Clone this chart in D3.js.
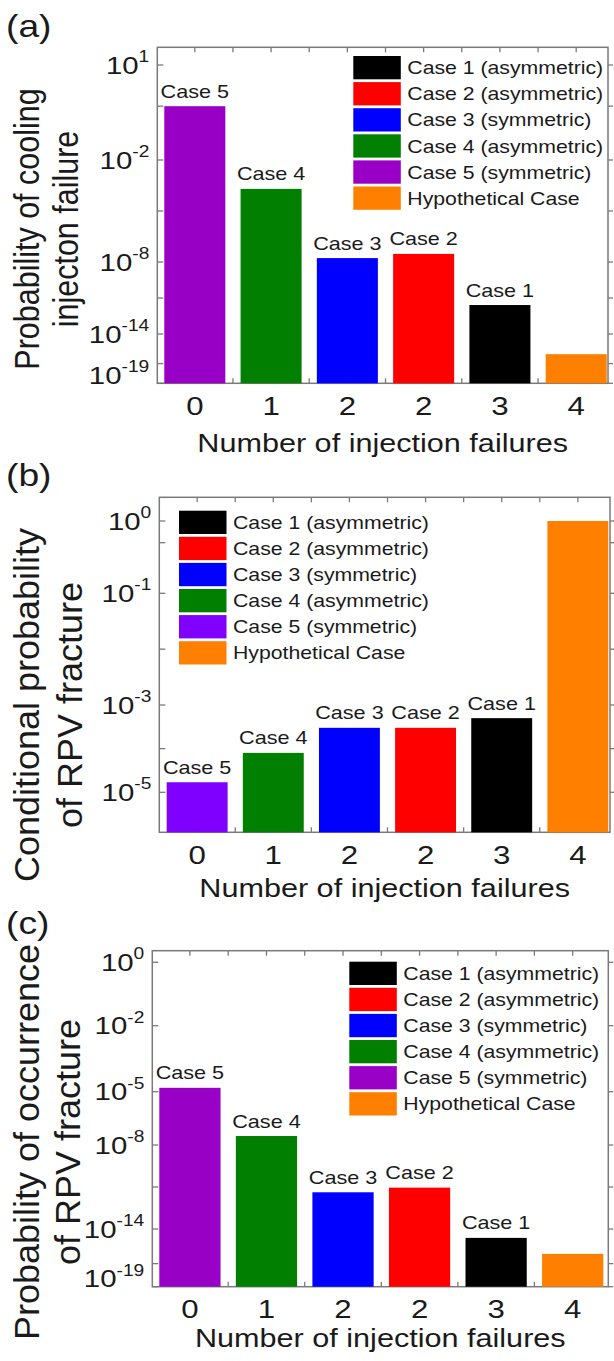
<!DOCTYPE html>
<html>
<head>
<meta charset="utf-8">
<script src="https://cdn.jsdelivr.net/npm/d3@7/dist/d3.min.js"></script>
<style>
  html, body { margin: 0; padding: 0; background: #fff; }
  svg { display: block; }
  text { font-family: "Liberation Sans", Arial, Helvetica, sans-serif; fill: #1a1a1a; }
</style>
</head>
<body>
<svg id="fig" width="614" height="1361"></svg>
<script>
// ---- data -------------------------------------------------------------
const failureCounts = ["0", "1", "2", "2", "3", "4"];
const barCases = ["Case 5", "Case 4", "Case 3", "Case 2", "Case 1", "Hypothetical Case"];
const barLabels = ["Case 5", "Case 4", "Case 3", "Case 2", "Case 1", ""];
const legendCases = ["Case 1", "Case 2", "Case 3", "Case 4", "Case 5", "Hypothetical Case"];
const legendLabels = ["Case 1 (asymmetric)", "Case 2 (asymmetric)", "Case 3 (symmetric)",
                      "Case 4 (asymmetric)", "Case 5 (symmetric)", "Hypothetical Case"];

// (a) probability of cooling injection failure
const coolingFailure = [5e-1, 2e-4, 1.7e-8, 3e-8, 2.6e-12, 9e-17];
// (b) conditional probability of RPV fracture
const fractureGivenFailure = [1.7e-5, 8e-5, 3e-4, 3e-4, 5e-4, 1];
// (c) probability of occurrence of RPV fracture
const fractureOccurrence = [1.5e-5, 3.2e-8, 4.2e-12, 9e-12, 1.7e-15, 7e-17];

// tick exponents (labelled and unlabelled)
const ticksA = [1, -2, -8, -14, -19];
const minorA = [-0.3, -5, -11, -17];
const ticksB = [0, -1, -3, -5];
const minorB = [-0.3, -2, -4];
const ticksC = [0, -2, -5, -8, -14, -19];
const minorC = [-11, -17];

// ---- styling ------------------------------------------------------------
const SX = 1.2;              // horizontal stretch of the lettering
const frameColor = "#7a7a7a";
const colorsA = {"Case 1": "#000000", "Case 2": "#ff0000", "Case 3": "#0000ff",
                 "Case 4": "#007f00", "Case 5": "#9900c6", "Hypothetical Case": "#ff8000"};
const colorsB = Object.assign({}, colorsA, {"Case 5": "#7f00ff"});

const svg = d3.select("#fig");

// text helper: places a string and stretches it horizontally around its anchor
function label(g, x, y, str, size, anchor) {
  return g.append("text")
    .attr("transform", `translate(${x},${y}) scale(${SX},1)`)
    .attr("text-anchor", anchor || "start")
    .style("font-size", size + "px")
    .text(str);
}

function panel(cfg) {
  const g = svg.append("g");
  const {L, R, T, B} = cfg;
  const H = B - T;

  // the probability axis is compressed toward small values; calibrated by decade anchors
  const y = d3.scaleLinear()
    .domain(cfg.anchorExp)
    .range(cfg.anchorFrac.map(f => T + f * H));

  const x = d3.scaleBand()
    .domain(d3.range(failureCounts.length))
    .range([cfg.barStart, cfg.barEnd])
    .paddingInner(0.2)
    .paddingOuter(0);
  const bw = x.bandwidth();
  const step = x.step();
  const centers = d3.range(failureCounts.length).map(i => x(i) + bw / 2);
  const between = centers.slice(0, -1).map(c => c + step / 2);

  // frame
  g.append("rect").attr("x", L).attr("y", T).attr("width", R - L).attr("height", H)
    .attr("fill", "none").attr("stroke", frameColor).attr("stroke-width", 1.5);

  // horizontal-axis ticks (top and bottom, pointing inward)
  const xt = centers.concat(between);
  g.selectAll(".xtTop").data(xt).join("line")
    .attr("x1", d => d).attr("x2", d => d).attr("y1", T).attr("y2", T + 5)
    .attr("stroke", frameColor).attr("stroke-width", 1.3);
  g.selectAll(".xtBot").data(xt).join("line")
    .attr("x1", d => d).attr("x2", d => d).attr("y1", B).attr("y2", B - 5)
    .attr("stroke", frameColor).attr("stroke-width", 1.3);

  // vertical-axis ticks: inward on the left, outward on the right
  const yt = cfg.ticks.concat(cfg.minor);
  g.selectAll(".ytL").data(yt).join("line")
    .attr("x1", L).attr("x2", L + 6).attr("y1", d => y(d)).attr("y2", d => y(d))
    .attr("stroke", frameColor).attr("stroke-width", 1.3);
  g.selectAll(".ytR").data(yt).join("line")
    .attr("x1", R).attr("x2", R + 5).attr("y1", d => y(d)).attr("y2", d => y(d))
    .attr("stroke", frameColor).attr("stroke-width", 1.3);

  // bars
  g.selectAll(".bar").data(cfg.values).join("rect")
    .attr("x", (d, i) => x(i))
    .attr("width", bw)
    .attr("y", d => y(Math.log10(d)))
    .attr("height", d => B - y(Math.log10(d)))
    .attr("fill", (d, i) => cfg.colors[barCases[i]]);

  // bar labels
  cfg.values.forEach((v, i) => {
    if (barLabels[i]) label(g, centers[i], y(Math.log10(v)) - 8.5, barLabels[i], 18, "middle");
  });

  // y tick labels 10^n
  cfg.ticks.forEach(e => {
    const ty = Math.min(y(e), B - 8) + 8.6;
    const t = g.append("text")
      .attr("transform", `translate(${L - 8},${ty}) scale(${SX},1)`)
      .attr("text-anchor", "end")
      .style("font-size", "24.5px");
    t.append("tspan").text("10");
    t.append("tspan").attr("dy", -11.5).style("font-size", "16px").text(String(e));
  });

  // x tick labels
  failureCounts.forEach((c, i) => label(g, centers[i], B + 31.5, c, 26, "middle"));

  // axis titles
  label(g, (L + R) / 2, cfg.xTitleY, "Number of injection failures", 25.5, "middle");
  cfg.yTitle.forEach((line, k) => {
    g.append("text")
      .attr("transform", `translate(${cfg.yTitleX[k]},${cfg.yTitleMid}) scale(${cfg.yTitleSX},1) rotate(-90)`)
      .attr("text-anchor", "middle")
      .style("font-size", cfg.yTitleSize + "px")
      .text(line);
  });

  // panel letter
  label(g, 6, cfg.letterY, cfg.letter, 31, "start");

  // legend
  const lg = g.append("g");
  legendCases.forEach((c, k) => {
    const ry = T + cfg.legTop + k * 26.1;
    lg.append("rect").attr("x", L + cfg.legLeft).attr("y", ry)
      .attr("width", 47.5).attr("height", 23.3).attr("fill", cfg.colors[c]);
    label(lg, L + cfg.legLeft + 54, ry + 18.2, legendLabels[k], 17.7, "start");
  });
}

panel({
  letter: "(a)", letterY: 36.5,
  L: 157.3, R: 608, T: 47.3, B: 383.3,
  barStart: 164.3, barEnd: 606.7,
  values: coolingFailure, colors: colorsA,
  ticks: ticksA, minor: minorA,
  anchorExp: [1, -2, -8, -14, -19],
  anchorFrac: [0.0527, 0.3354, 0.639, 0.8533, 1.0],
  xTitleY: 451.5,
  yTitle: ["Probability of cooling", "injecton failure"],
  yTitleX: [39, 78], yTitleMid: 229, yTitleSize: 30.5, yTitleSX: 1.12,
  legLeft: 196, legTop: 8.7
});

panel({
  letter: "(b)", letterY: 485.5,
  L: 159.3, R: 610, T: 497.3, B: 832.3,
  barStart: 166.7, barEnd: 608.3,
  values: fractureGivenFailure, colors: colorsB,
  ticks: ticksB, minor: minorB,
  anchorExp: [0, -1, -3, -5],
  anchorFrac: [0.0707, 0.2866, 0.62, 0.8806],
  xTitleY: 896.5,
  yTitle: ["Conditional probability", "of RPV fracture"],
  yTitleX: [39, 82], yTitleMid: 705, yTitleSize: 36, yTitleSX: 0.95,
  legLeft: 19.7, legTop: 13.4
});

panel({
  letter: "(c)", letterY: 933.5,
  L: 152.3, R: 608.3, T: 950.7, B: 1286.7,
  barStart: 159.3, barEnd: 603.3,
  values: fractureOccurrence, colors: colorsA,
  ticks: ticksC, minor: minorC,
  anchorExp: [0, -2, -5, -8, -14, -19],
  anchorFrac: [0.0345, 0.2232, 0.4196, 0.5783, 0.8283, 1.0],
  xTitleY: 1347,
  yTitle: ["Probability of occurrence", "of RPV fracture"],
  yTitleX: [39, 80], yTitleMid: 1142, yTitleSize: 36, yTitleSX: 0.95,
  legLeft: 197, legTop: 11
});
</script>
</body>
</html>
